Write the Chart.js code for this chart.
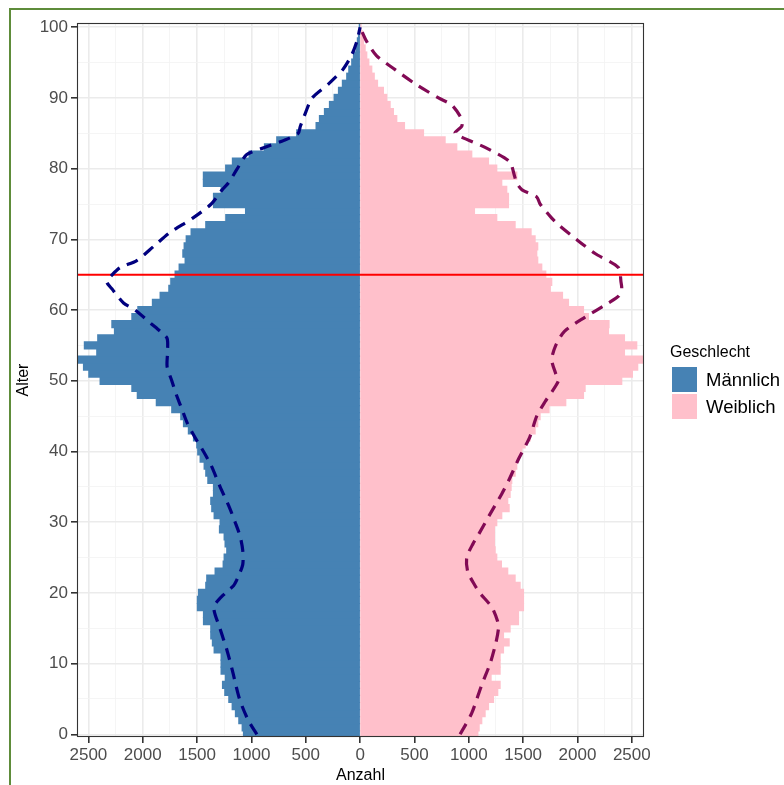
<!DOCTYPE html>
<html>
<head>
<meta charset="utf-8">
<script src="https://cdn.jsdelivr.net/npm/chart.js@4.4.1/dist/chart.umd.min.js"></script>
<style>
  html, body { margin: 0; padding: 0; background: #ffffff; }
  #wrap { width: 784px; height: 785px; }
</style>
</head>
<body>
<div id="wrap"><canvas id="c" width="784" height="785"></canvas></div>
<script>
// ---------- DATA ----------
const ages = [0,1,2,3,4,5,6,7,8,9,10,11,12,13,14,15,16,17,18,19,20,21,22,23,24,25,26,27,28,29,30,31,32,33,34,35,36,37,38,39,40,41,42,43,44,45,46,47,48,49,50,51,52,53,54,55,56,57,58,59,60,61,62,63,64,65,66,67,68,69,70,71,72,73,74,75,76,77,78,79,80,81,82,83,84,85,86,87,88,89,90,91,92,93,94,95,96,97,98,99,100];

const maleCounts = [
  1073,1085,1116,1147,1177,1208,1245,1266,1240,1279,
  1279,1279,1343,1359,1374,1374,1441,1441,1497,1497,
  1487,1420,1411,1334,1260,1251,1227,1242,1251,1294,
  1288,1343,1365,1374,1349,1349,1401,1420,1435,1472,
  1494,1503,1533,1580,1625,1650,1733,1875,2050,2100,
  2392,2496,2545,2598,2423,2537,2414,2260,2284,2100,
  2045,1911,1840,1760,1742,1702,1665,1610,1631,1619,
  1600,1555,1420,1236,1054,1349,1349,1279,1442,1442,
  1237,1175,1021,880,767,583,405,374,328,282,
  239,199,163,123,104,77,61,37,25,15,
  5];

const femaleCounts = [
  1083,1095,1119,1150,1181,1227,1266,1288,1205,1288,
  1288,1288,1319,1371,1319,1380,1457,1457,1503,1503,
  1503,1472,1426,1358,1300,1257,1242,1236,1236,1236,
  1257,1303,1371,1358,1380,1389,1395,1426,1441,1457,
  1487,1518,1564,1610,1634,1656,1738,1892,2055,2070,
  2407,2505,2554,2606,2432,2545,2432,2285,2290,2100,
  2055,1917,1862,1750,1763,1708,1671,1634,1625,1634,
  1610,1573,1426,1257,1052,1365,1365,1349,1303,1441,
  1257,1181,1027,889,782,583,408,337,306,276,
  245,214,160,130,107,80,61,46,30,20,
  8];

const maleProjAges = [0,2,5,9,12,15,18,20,21,22,24,26,28,30,32,35,38,40,42,44,46,48,50,52,54,56,57,58,60,61,63,64,65,66,67,69,71,73,75,77,78,80,82,83,84,85,86,88,90,92,94,96,98,100];
const maleProj = [950,1030,1110,1175,1227,1290,1345,1240,1165,1130,1080,1080,1104,1150,1200,1288,1370,1441,1520,1590,1640,1690,1733,1776,1772,1776,1840,1917,2070,2177,2284,2331,2280,2208,2055,1900,1748,1540,1370,1270,1211,1130,1043,880,700,570,550,500,442,290,160,80,30,0];

const femaleProjAges = [0,3,7,10,13,15,16,18,20,21,23,25,27,28,31,34,36,39,42,45,47,50,51,53,55,57,59,61,62,63,64,66,68,70,72,73,75,76,77,78,79,81,83,85,86,87,89,90,92,94,96,98,100];
const femaleProj = [920,1027,1119,1196,1250,1273,1265,1211,1100,1058,990,981,1040,1080,1190,1303,1370,1460,1560,1625,1700,1825,1800,1763,1800,1880,2070,2285,2380,2407,2400,2377,2162,1990,1830,1763,1656,1625,1490,1440,1420,1375,1150,874,935,935,843,721,506,322,150,60,0];

const xTickValues = [-2500,-2000,-1500,-1000,-500,0,500,1000,1500,2000,2500];
const yTickValues = [0,10,20,30,40,50,60,70,80,90,100];
const retirementAge = 65;
const legendTitle = 'Geschlecht';
const seriesNames = ['Männlich', 'Weiblich'];
const xTitle = 'Anzahl';
const yTitle = 'Alter';

// ---------- BUILD ----------
const X_MIN = -2605, X_MAX = 2612, Y_MIN = -0.38, Y_MAX = 100.6;
const FONT = '"Liberation Sans", Arial, Helvetica, sans-serif';
const COL_M = '#4682B4', COL_F = '#FFC0CB';

const maleData = ages.map((a, i) => ({ x: -maleCounts[i], y: a }));
const femaleData = ages.map((a, i) => ({ x: femaleCounts[i], y: a }));
const maleProjData = maleProjAges.map((a, i) => ({ x: -maleProj[i], y: a }));
const femaleProjData = femaleProjAges.map((a, i) => ({ x: femaleProj[i], y: a }));
const refLine = [{ x: X_MIN, y: retirementAge }, { x: X_MAX, y: retirementAge }];

function minorSteps(vals) {
  const out = [];
  for (let i = 0; i < vals.length; i++) {
    out.push(vals[i]);
    if (i < vals.length - 1) out.push((vals[i] + vals[i + 1]) / 2);
  }
  return out;
}
const xAllTicks = minorSteps(xTickValues);
const yAllTicks = minorSteps(yTickValues);
const isMajorX = v => xTickValues.includes(v);
const isMajorY = v => yTickValues.includes(v);
const tv = c => (c && c.tick) ? c.tick.value : NaN;

const decor = {
  id: 'decor',
  beforeDraw(chart) {
    const ctx = chart.ctx;
    ctx.save();
    ctx.fillStyle = '#ffffff';
    ctx.fillRect(0, 0, chart.width, chart.height);
    ctx.restore();
  },
  afterDraw(chart) {
    const ctx = chart.ctx;
    const a = chart.chartArea;
    ctx.save();
    ctx.strokeStyle = '#333333';
    ctx.lineWidth = 1.1;
    ctx.strokeRect(a.left + 0.5, a.top + 0.5, a.right - a.left - 1, a.bottom - a.top - 1);
    ctx.strokeStyle = '#5E8C3A';
    ctx.lineWidth = 2;
    ctx.beginPath();
    ctx.moveTo(10, chart.height);
    ctx.lineTo(10, 9);
    ctx.lineTo(chart.width, 9);
    ctx.stroke();
    ctx.fillStyle = '#000000';
    ctx.textBaseline = 'alphabetic';
    ctx.textAlign = 'left';
    ctx.font = '16px ' + FONT;
    ctx.fillText(legendTitle, 670, 357);
    ctx.fillStyle = COL_M;
    ctx.fillRect(672, 367, 25, 25);
    ctx.fillStyle = COL_F;
    ctx.fillRect(672, 394, 25, 25);
    ctx.fillStyle = '#000000';
    ctx.font = '18.5px ' + FONT;
    ctx.fillText(seriesNames[0], 706, 386);
    ctx.fillText(seriesNames[1], 706, 413);
    ctx.restore();
  }
};

new Chart(document.getElementById('c'), {
  type: 'bar',
  data: {
    datasets: [
      { type: 'line', label: 'proj-m', data: maleProjData, borderColor: '#00007F', borderWidth: 3.2,
        borderDash: [12, 8], pointRadius: 0, fill: false, tension: 0.25, order: 1 },
      { type: 'line', label: 'proj-f', data: femaleProjData, borderColor: '#820A55', borderWidth: 3.2,
        borderDash: [12, 8], pointRadius: 0, fill: false, tension: 0.25, order: 1 },
      { type: 'line', label: 'ref', data: refLine, borderColor: '#FF0000', borderWidth: 2,
        pointRadius: 0, fill: false, order: 2 },
      { type: 'bar', label: seriesNames[0], data: maleData, backgroundColor: COL_M,
        barPercentage: 1, categoryPercentage: 1, grouped: false, borderWidth: 0, inflateAmount: 0.6, order: 3 },
      { type: 'bar', label: seriesNames[1], data: femaleData, backgroundColor: COL_F,
        barPercentage: 1, categoryPercentage: 1, grouped: false, borderWidth: 0, inflateAmount: 0.6, order: 3 }
    ]
  },
  options: {
    indexAxis: 'y',
    responsive: false,
    animation: false,
    devicePixelRatio: 1,
    layout: { padding: { left: 0, top: 23, right: 140, bottom: 0 } },
    plugins: { legend: { display: false }, tooltip: { enabled: false } },
    scales: {
      x: {
        type: 'linear', min: X_MIN, max: X_MAX, offset: false,
        afterBuildTicks: s => { s.ticks = xAllTicks.map(v => ({ value: v })); },
        afterFit: s => { s.height = 48; },
        ticks: {
          autoSkip: false, maxRotation: 0, padding: 2,
          color: '#4D4D4D', font: { family: FONT, size: 17 },
          callback: v => isMajorX(v) ? String(Math.abs(v)) : ''
        },
        grid: {
          offset: false,
          color: c => isMajorX(tv(c)) ? '#EBEBEB' : '#F3F3F3',
          lineWidth: c => isMajorX(tv(c)) ? 1.6 : 0.8,
          tickColor: c => isMajorX(tv(c)) ? '#333333' : 'rgba(0,0,0,0)',
          tickLength: 6, drawTicks: true
        },
        border: { display: false },
        title: { display: true, text: xTitle, color: '#000000', font: { family: FONT, size: 16 }, padding: { top: 0, bottom: 0 } }
      },
      y: {
        type: 'linear', min: Y_MIN, max: Y_MAX, offset: false,
        afterBuildTicks: s => { s.ticks = yAllTicks.map(v => ({ value: v })); },
        afterFit: s => { s.width = 77; },
        ticks: {
          autoSkip: false, padding: 3,
          color: '#4D4D4D', font: { family: FONT, size: 17 },
          callback: v => isMajorY(v) ? String(v) : ''
        },
        grid: {
          offset: false,
          color: c => isMajorY(tv(c)) ? '#EBEBEB' : '#F3F3F3',
          lineWidth: c => isMajorY(tv(c)) ? 1.6 : 0.8,
          tickColor: c => isMajorY(tv(c)) ? '#333333' : 'rgba(0,0,0,0)',
          tickLength: 6, drawTicks: true
        },
        border: { display: false },
        title: { display: true, text: yTitle, color: '#000000', font: { family: FONT, size: 16 }, padding: { top: 14, bottom: 0 } }
      }
    }
  },
  plugins: [decor]
});
</script>
</body>
</html>
